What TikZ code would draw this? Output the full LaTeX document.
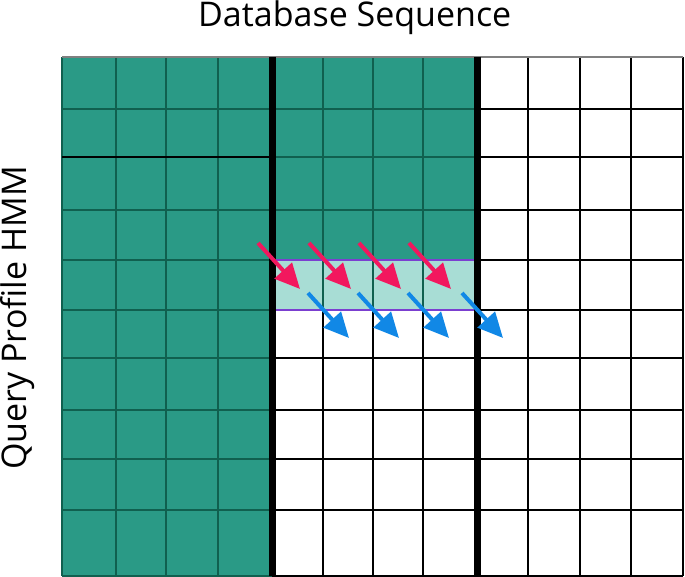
\documentclass[tikz,border=0pt]{standalone}
\usepackage{fontspec}
\setmainfont{Open Sans}
\usetikzlibrary{arrows.meta}

\definecolor{cellgreen}{HTML}{2A9A86}
\definecolor{bandgreen}{HTML}{A8DDD5}
\definecolor{gridgreen}{HTML}{10604F}
\definecolor{bandline}{HTML}{7B3FD0}
\definecolor{arrowpink}{HTML}{F2185E}
\definecolor{arrowblue}{HTML}{1188E6}

\tikzset{
  darkline/.style={draw=gridgreen, line width=1.8pt},
  blackline/.style={draw=black, line width=1.8pt},
  wall/.style={draw=black, line width=7pt},
  purpleline/.style={draw=bandline, line width=2pt},
  pinkarrow/.style={draw=arrowpink, line width=4pt, -{Triangle[length=25pt,width=23pt]}},
  bluearrow/.style={draw=arrowblue, line width=4pt, -{Triangle[length=25pt,width=23pt]}},
  axislabel/.style={font=\fontsize{34}{40}\selectfont, inner sep=0pt}
}

\begin{document}
\begin{tikzpicture}[x=1pt,y=-1pt]
        \useasboundingbox (0,0) rectangle (685,577);

        % cells
        \fill[cellgreen] (62,57) rectangle (477,260);
        \fill[cellgreen] (62,260) rectangle (272,576);
        \fill[bandgreen] (272,260) rectangle (477,310);

        % vertical lines
        \foreach \x in {62,116,166,218}
          \draw[darkline] (\x,57) -- (\x,576);
        \foreach \x in {323,373,423} {
          \draw[darkline] (\x,57) -- (\x,310);
          \draw[blackline] (\x,310) -- (\x,576);
        }
        \foreach \x in {528,580,631,683}
          \draw[blackline] (\x,57) -- (\x,576);

        % horizontal lines
        \foreach \y in {109,210,260} {
          \draw[darkline] (62,\y) -- (477,\y);
          \draw[blackline] (477,\y) -- (683,\y);
        }
        \draw[darkline] (272,157) -- (477,157);
        \draw[blackline] (62,157) -- (272,157);
        \draw[blackline] (477,157) -- (683,157);
        \foreach \y in {310,358,410,459,510,576} {
          \draw[darkline] (62,\y) -- (272,\y);
          \draw[blackline] (272,\y) -- (683,\y);
        }
        \draw[draw=gray, line width=1.8pt] (62,57) -- (683,57);

        % band
        \draw[purpleline] (272,260) -- (477,260);
        \draw[purpleline] (272,310) -- (477,310);

        % walls
        \draw[wall] (272,57) -- (272,576);
        \draw[wall] (477,57) -- (477,576);

        % arrows
        \foreach \x [count=\i] in {272,323,373,423} {
          \coordinate (p\i) at (\x-14,243);
          \coordinate (q\i) at (\x+28,289);
          \draw[pinkarrow] (p\i) -- (q\i);
        }
        \foreach \x [count=\i] in {323,373,423,477} {
          \coordinate (b\i) at (\x-15,293);
          \coordinate (c\i) at (\x+26,338);
          \draw[bluearrow] (b\i) -- (c\i);
        }

        % labels
        \node[axislabel, anchor=base west] (dbseq) at (198,27) {Database Sequence};
        \node[axislabel, rotate=90, anchor=base west] (query) at (27,470) {Query Profile HMM};

\end{tikzpicture}
\end{document}
